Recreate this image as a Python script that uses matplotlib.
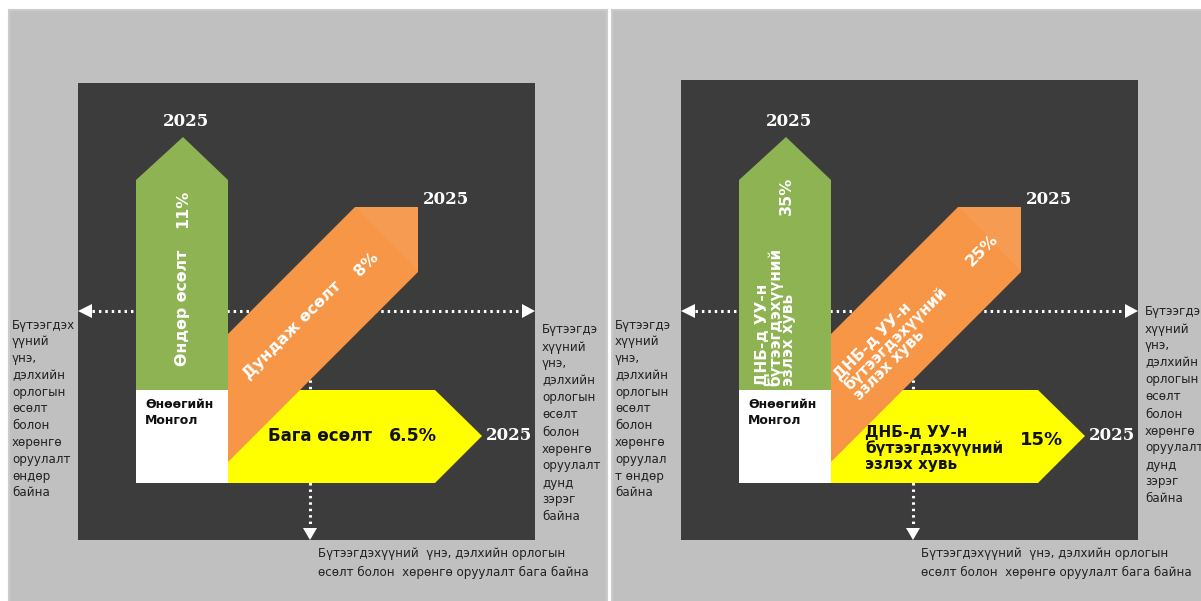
import matplotlib
matplotlib.use('Agg')
import matplotlib.pyplot as plt
from matplotlib.patches import Polygon, Rectangle
import numpy as np

# =============================================================================
# DATA
# =============================================================================

year = '2025'
scenario_labels = ['Өндөр өсөлт', 'Дундаж өсөлт', 'Бага өсөлт']
growth_rates = ['11%', '8%', '6.5%']
share_lines = ['ДНБ-д УУ-н', 'бүтээгдэхүүний', 'эзлэх хувь']
share_rates = ['35%', '25%', '15%']
base_lines = ['Өнөөгийн', 'Монгол']

side_high_a = ['Бүтээгдэх', 'үүний', 'үнэ,', 'дэлхийн', 'орлогын', 'өсөлт',
               'болон', 'хөрөнгө', 'оруулалт', 'өндөр', 'байна']
side_high_b = ['Бүтээгдэ', 'хүүний', 'үнэ,', 'дэлхийн', 'орлогын', 'өсөлт',
               'болон', 'хөрөнгө', 'оруулал', 'т өндөр', 'байна']
side_mid = ['Бүтээгдэ', 'хүүний', 'үнэ,', 'дэлхийн', 'орлогын', 'өсөлт',
            'болон', 'хөрөнгө', 'оруулалт', 'дунд', 'зэрэг', 'байна']
side_low = ['Бүтээгдэхүүний  үнэ, дэлхийн орлогын',
            'өсөлт болон  хөрөнгө оруулалт бага байна']

# =============================================================================
# STYLE
# =============================================================================

BG_GRAY = '#c0c0c0'
DARK = '#3c3c3c'
GREEN = '#8db352'
ORANGE = '#f79646'
ORANGE2 = '#f69c52'
YELLOW = '#ffff00'
TXT = '#222222'
SANS = 'DejaVu Sans'
SERIF = 'DejaVu Serif'

W, H = 1201, 601
fig = plt.figure(figsize=(W / 100, H / 100), dpi=100)
fig.patch.set_facecolor('white')
ax = fig.add_axes([0, 0, 1, 1])
ax.set_xlim(0, W)
ax.set_ylim(H, 0)
ax.axis('off')


def dotted(x0, y0, x1, y1):
    ax.plot([x0, x1], [y0, y1], color='white', lw=2.2,
            linestyle=(0, (0.8, 1.3)), dash_capstyle='butt', zorder=2)


def side_text(lines, x, y0, step):
    for i, s in enumerate(lines):
        ax.text(x, y0 + i * step, s, fontsize=8.6, family=SANS, color=TXT,
                ha='left', va='center', zorder=6)


def year_label(x, y):
    ax.text(x, y, year, fontsize=12, family=SERIF, weight='bold',
            color='white', ha='center', va='center', zorder=6)


def diag_lines(lines, x0, y0, step, size):
    n = np.array([np.sqrt(0.5), np.sqrt(0.5)])
    for i, s in enumerate(lines):
        px, py = np.array([x0, y0]) + i * step * n
        ax.text(px, py, s, fontsize=size, family=SANS, weight='bold',
                color='white', rotation=45, rotation_mode='anchor',
                ha='left', va='center', zorder=6)


def panel(dx, top, left_lines, left_y0, right_lines, right_y0):
    # gray background and dark square
    ax.add_patch(Rectangle((dx + 9, 10), 598 if dx == 0 else 590, 595,
                           facecolor=BG_GRAY, edgecolor='#cbcbcb', lw=1.5,
                           zorder=0))
    ax.add_patch(Rectangle((dx + 78, top), 457, 540 - top,
                           facecolor=DARK, edgecolor='none', zorder=1))

    # dotted axes with arrow heads
    dotted(dx + 92, 311, dx + 522, 311)
    dotted(dx + 310, 335, dx + 310, 528)
    for tri in ([(78, 311), (92, 304), (92, 318)],
                [(535, 311), (522, 304), (522, 318)],
                [(310, 540), (303, 528), (317, 528)]):
        ax.add_patch(Polygon([(dx + a, b) for a, b in tri], closed=True,
                             facecolor='white', edgecolor='none', zorder=2))

    # green (up), white base, yellow (right), orange (diagonal)
    ax.add_patch(Polygon([(dx + 136, 390), (dx + 136, 180), (dx + 183, 137),
                          (dx + 228, 180), (dx + 228, 390)],
                         facecolor=GREEN, edgecolor='none', zorder=3))
    ax.add_patch(Rectangle((dx + 136, 390), 92, 93, facecolor='white',
                           edgecolor='none', zorder=3))
    ax.add_patch(Polygon([(dx + 228, 390), (dx + 435, 390), (dx + 482, 436),
                          (dx + 435, 483), (dx + 228, 483)],
                         facecolor=YELLOW, edgecolor='none', zorder=3))
    ax.add_patch(Polygon([(dx + 228, 334), (dx + 355, 207), (dx + 418, 207),
                          (dx + 418, 272), (dx + 228, 462)],
                         facecolor=ORANGE, edgecolor='none', zorder=4))
    ax.add_patch(Polygon([(dx + 356, 207), (dx + 418, 207), (dx + 418, 271)],
                         facecolor=ORANGE2, edgecolor='none', zorder=4))

    for i, s in enumerate(base_lines):
        ax.text(dx + 145, 405 + i * 16, s, fontsize=9, family=SANS,
                weight='bold', color='#111111', ha='left', va='center',
                zorder=6)

    year_label(dx + 186, 121)
    year_label(dx + 446, 199)
    year_label(dx + 509, 436)

    side_text(left_lines, dx + 12, left_y0, 16.8)
    side_text(right_lines, dx + 542, right_y0, 17)
    side_text(side_low, dx + 318, 554, 18.5)


# =============================================================================
# LEFT PANEL: growth scenarios
# =============================================================================

panel(0, 83, side_high_a, 325, side_mid, 330)

ax.text(183, 366, scenario_labels[0], fontsize=11.3, family=SANS,
        weight='bold', color='white', rotation=90, ha='center', va='bottom',
        zorder=6)
ax.text(183, 209, growth_rates[0], fontsize=11.5, family=SANS,
        weight='bold', color='white', rotation=90, ha='center', va='center',
        zorder=6)
ax.text(292, 330, scenario_labels[1], fontsize=11.3, family=SANS,
        weight='bold', color='white', rotation=45, rotation_mode='anchor',
        ha='center', va='center', zorder=6)
ax.text(366, 264, growth_rates[1], fontsize=11.5, family=SANS,
        weight='bold', color='white', rotation=45, rotation_mode='anchor',
        ha='center', va='center', zorder=6)
ax.text(268, 436, scenario_labels[2], fontsize=12, family=SANS,
        weight='bold', color='#111111', ha='left', va='center', zorder=6)
ax.text(413, 436, growth_rates[2], fontsize=12.5, family=SANS,
        weight='bold', color='#111111', ha='center', va='center', zorder=6)

# =============================================================================
# RIGHT PANEL: share of industry output in GDP
# =============================================================================

dx = 603
panel(dx, 80, side_high_b, 325, side_mid, 312)

for i, s in enumerate(share_lines):
    ax.text(dx + 159 + i * 13.5, 386, s, fontsize=11, family=SANS,
            weight='bold', color='white', rotation=90, ha='center',
            va='bottom', zorder=6)
ax.text(dx + 183, 196, share_rates[0], fontsize=11.5, family=SANS,
        weight='bold', color='white', rotation=90, ha='center', va='center',
        zorder=6)

diag_lines(share_lines, dx + 234, 378, 14, 11)
ax.text(dx + 379, 250, share_rates[1], fontsize=11.5, family=SANS,
        weight='bold', color='white', rotation=45, rotation_mode='anchor',
        ha='center', va='center', zorder=6)

for i, s in enumerate(share_lines):
    ax.text(dx + 262, 432 + i * 16.5, s, fontsize=11, family=SANS,
            weight='bold', color='#111111', ha='left', va='center',
            zorder=6)
ax.text(dx + 439, 440, share_rates[2], fontsize=13, family=SANS,
        weight='bold', color='#111111', ha='center', va='center', zorder=6)

fig.savefig('out.png', dpi=100, facecolor='white')
